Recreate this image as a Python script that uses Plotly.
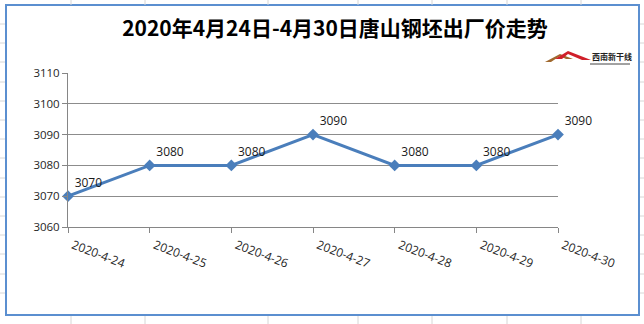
import plotly.graph_objects as go

dates = ["2020-4-24", "2020-4-25", "2020-4-26", "2020-4-27", "2020-4-28", "2020-4-29", "2020-4-30"]
prices = [3070, 3080, 3080, 3090, 3080, 3080, 3090]
y_ticks = [3060, 3070, 3080, 3090, 3100, 3110]
title_text = "2020年4月24日-4月30日唐山钢坯出厂价走势"
logo_text = "西南新干线"

xpos = list(range(len(dates)))

fig = go.Figure()
fig.add_trace(go.Scatter(
    x=xpos, y=prices,
    mode="lines+markers+text",
    line=dict(color="#4A7EBB", width=3),
    marker=dict(symbol="diamond", size=9, color="#4A7EBB"),
    text=[str(p) for p in prices],
    textposition="top right",
    textfont=dict(family="Open Sans", size=12, color="#1a1a1a"),
    cliponaxis=False,
    hoverinfo="skip",
))

W, H = 644, 324


def px(xp, yp):
    return (xp - 68) / 490, (227 - yp) / 154


shapes = []
# chart frame
x0, y0 = px(6, 315)
x1, y1 = px(639, 5)
shapes.append(dict(type="rect", xref="paper", yref="paper", x0=x0, x1=x1, y0=y0, y1=y1,
                   line=dict(color="#5B8FD0", width=2), layer="below"))
# faint spreadsheet grid lines outside the frame
for gx in [71, 145, 268, 358, 432, 507, 581]:
    for (a, b) in [(0, 5), (316, 324)]:
        xa, ya = px(gx, a)
        _, yb = px(gx, b)
        shapes.append(dict(type="line", xref="paper", yref="paper", x0=xa, x1=xa, y0=ya, y1=yb,
                           line=dict(color="#D6D6D6", width=1), layer="below"))
for gy in [24, 43, 62, 82, 101, 120, 139, 158, 178, 197, 216, 235, 254, 274, 293]:
    for (a, b) in [(0, 5), (640, 644)]:
        xa, ya = px(a, gy)
        xb, _ = px(b, gy)
        shapes.append(dict(type="line", xref="paper", yref="paper", x0=xa, x1=xb, y0=ya, y1=ya,
                           line=dict(color="#D6D6D6", width=1), layer="below"))


def path(points, color):
    d = "M " + " L ".join(f"{px(x, y)[0]:.5f},{px(x, y)[1]:.5f}" for x, y in points) + " Z"
    return dict(type="path", xref="paper", yref="paper", path=d,
                fillcolor=color, line=dict(width=0))


# logo mountains
shapes.append(path([(545, 62), (560, 54), (573, 59), (566, 59), (560, 56), (551, 62)], "#A0692E"))
shapes.append(path([(555, 59), (568, 51), (591, 60), (582, 60), (568, 54), (562, 59)], "#D0202A"))
xa, ya = px(590, 64)
xb, _ = px(630, 64)
shapes.append(dict(type="line", xref="paper", yref="paper", x0=xa, x1=xb, y0=ya, y1=ya,
                   line=dict(color="#444", width=1)))

lx, ly = px(590, 57)
fig.update_layout(
    width=W, height=H,
    margin=dict(l=68, r=86, t=73, b=97),
    paper_bgcolor="white", plot_bgcolor="white",
    showlegend=False,
    shapes=shapes,
    title=dict(text=title_text, x=335 / W, xanchor="center",
               y=1 - 29 / H, yanchor="middle",
               font=dict(family="Noto Sans CJK SC", size=21, color="black", weight="bold")),
    xaxis=dict(range=[0, 6], tickvals=xpos, ticktext=dates, tickangle=21,
               ticklabelstandoff=1, ticklabelshift=5,
               showgrid=False, zeroline=False, showline=True, linecolor="#868686", linewidth=1,
               ticks="outside", ticklen=5, tickcolor="#868686",
               tickfont=dict(family="Open Sans", size=12, color="#262626")),
    yaxis=dict(range=[3060, 3110], tickvals=y_ticks, showgrid=True, gridcolor="#8C8C8C", gridwidth=1,
               zeroline=False, showline=True, linecolor="#868686", linewidth=1,
               ticks="outside", ticklen=5, tickcolor="#868686",
               tickfont=dict(family="Open Sans", size=11.5, color="#262626")),
    annotations=[dict(text=logo_text, xref="paper", yref="paper",
                      x=lx, y=ly, xanchor="left", yanchor="middle",
                      showarrow=False,
                      font=dict(family="Noto Sans CJK SC", size=8, color="#222", weight="bold"))],
)

fig.write_html("out.html")
